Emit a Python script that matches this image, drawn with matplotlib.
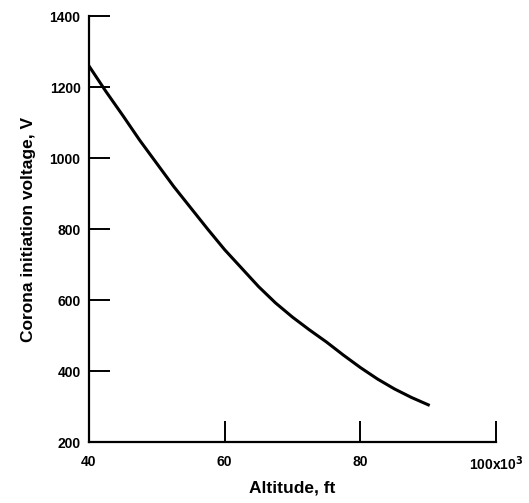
import numpy as np
import matplotlib.pyplot as plt

plt.rcParams['font.family'] = ['Liberation Sans', 'DejaVu Sans']
plt.rcParams['font.weight'] = 'bold'

# altitude, 10^3 ft
altitude = [40, 42.5, 45, 47.5, 50, 52.5, 55, 57.5, 60, 62.5, 65,
            67.5, 70, 72.5, 75, 77.5, 80, 82.5, 85, 87.5, 90]
# corona initiation voltage, V
voltage = [1260, 1188, 1120, 1050, 985, 920, 860, 800, 742, 690, 638,
           592, 552, 516, 482, 445, 410, 378, 350, 326, 305]

xticks = [40, 60, 80, 100]
xlabels = ['40', '60', '80', '100x10$^3$']
yticks = [200, 400, 600, 800, 1000, 1200, 1400]

fig = plt.figure(figsize=(5.29, 5.03), dpi=100)
ax = fig.add_axes([0.168, 0.121, 0.770, 0.847])
ax.plot(altitude, voltage, color='black', lw=2.2)

ax.set_xlim(40, 100)
ax.set_ylim(200, 1400)
ax.set_xticks(xticks)
ax.set_xticklabels(xlabels)
ax.set_yticks(yticks)
ax.spines['top'].set_visible(False)
ax.spines['right'].set_visible(False)
for s in ['left', 'bottom']:
    ax.spines[s].set_linewidth(1.6)
ax.tick_params(direction='in', length=15, width=1.4, labelsize=10)
ax.tick_params(axis='x', pad=9)
ax.tick_params(axis='y', pad=6)
ax.set_xlabel('Altitude, ft', fontsize=12.5, fontweight='bold', labelpad=5)
ax.set_ylabel('Corona initiation voltage, V', fontsize=12.5, fontweight='bold',
              labelpad=10)

fig.savefig('out.png', dpi=100)
